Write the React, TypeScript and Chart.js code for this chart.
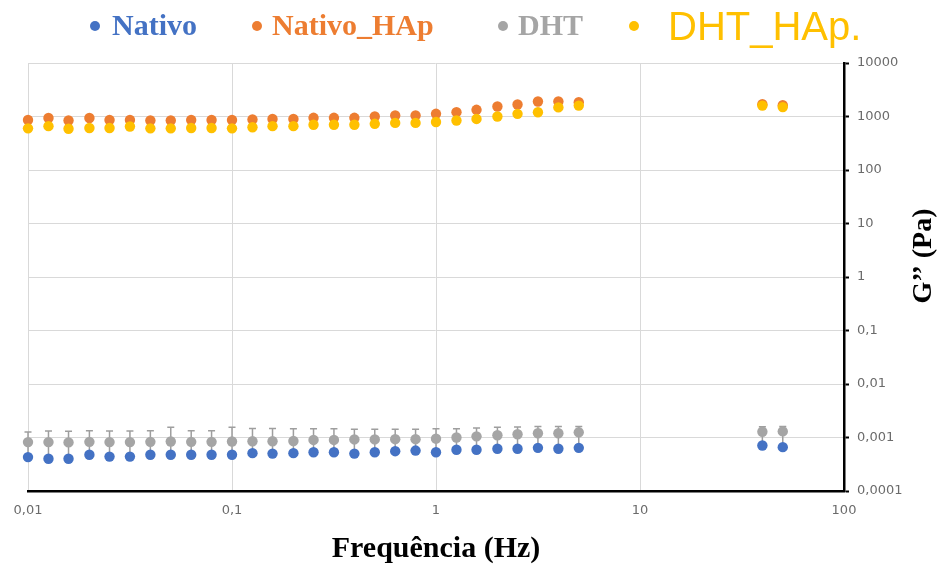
import { useEffect, useRef } from 'react';
import { Chart, registerables } from 'chart.js';

Chart.register(...registerables);

// Frequency sweep (Hz)
const frequencies = [
  0.01, 0.0126, 0.0158, 0.02, 0.0251, 0.0316, 0.0398, 0.0501, 0.0631, 0.0794,
  0.1, 0.126, 0.158, 0.2, 0.251, 0.316, 0.398, 0.501, 0.631, 0.794,
  1, 1.26, 1.58, 2, 2.51, 3.16, 3.98, 5.01, 39.8, 50.1,
];

// Loss modulus G'' (Pa) per sample
const nativo = [
  0.00043, 0.0004, 0.0004, 0.000475, 0.00044, 0.00044, 0.000475, 0.000475, 0.000475, 0.000475,
  0.000475, 0.00051, 0.0005, 0.00051, 0.00053, 0.00053, 0.0005, 0.00053, 0.000555, 0.00057,
  0.00053, 0.00059, 0.00059, 0.000615, 0.000615, 0.00064, 0.000615, 0.00064, 0.00071, 0.00066,
];
const nativoHAp = [
  860, 937, 842, 937, 860, 860, 842, 842, 860, 860,
  860, 879, 898, 898, 945, 945, 945, 1000, 1044, 1044,
  1123, 1204, 1334, 1538, 1677, 1908, 1908, 1850, 1700, 1620,
];
const dht = [
  0.00082, 0.00082, 0.00081, 0.00083, 0.00082, 0.00082, 0.00083, 0.00084, 0.00083, 0.00083,
  0.00084, 0.00085, 0.00085, 0.00086, 0.0009, 0.0009, 0.00092, 0.00092, 0.00093, 0.00093,
  0.00095, 0.001, 0.00105, 0.0011, 0.00115, 0.0012, 0.0012, 0.00125, 0.00128, 0.0013,
];
const dhtErrUp = [
  0.00045, 0.0005, 0.0005, 0.0005, 0.0005, 0.0005, 0.0005, 0.00072, 0.0005, 0.0005,
  0.00072, 0.00062, 0.00062, 0.0006, 0.00055, 0.00055, 0.0005, 0.0005, 0.0005, 0.0005,
  0.0005, 0.00045, 0.00045, 0.00045, 0.00042, 0.0004, 0.0004, 0.00035, 0.0003, 0.0003,
];
const dhtErrDown = [
  0.00036, 0.00038, 0.00038, 0.00033, 0.00035, 0.00035, 0.00033, 0.00034, 0.00033, 0.00033,
  0.00033, 0.00031, 0.00032, 0.00032, 0.00034, 0.00034, 0.00038, 0.00036, 0.00034, 0.00033,
  0.00038, 0.0004, 0.00044, 0.00047, 0.00052, 0.00055, 0.00057, 0.0006, 0.00055, 0.0006,
];
const dhtHAp = [
  600, 660, 590, 610, 610, 650, 600, 600, 610, 610,
  600, 630, 660, 660, 700, 700, 700, 730, 760, 760,
  790, 840, 900, 1000, 1120, 1200, 1480, 1600, 1600, 1500,
];

const xTickValues = [0.01, 0.1, 1, 10, 100];
const xTickLabels = ['0,01', '0,1', '1', '10', '100'];
const yTickValues = [0.0001, 0.001, 0.01, 0.1, 1, 10, 100, 1000, 10000];
const yTickLabels = ['0,0001', '0,001', '0,01', '0,1', '1', '10', '100', '1000', '10000'];

const seriesNames = ['Nativo', 'Nativo_HAp', 'DHT', 'DHT_HAp.'];
const seriesColors = ['#4472C4', '#ED7D31', '#A5A5A5', '#FFC000'];

const xTitle = 'Frequência (Hz)';
const yTitle = 'G’’ (Pa)';

const labelFor = (values: number[], labels: string[], v: number) => {
  const i = values.findIndex((t) => Math.abs(Math.log10(t) - Math.log10(v)) < 1e-6);
  return i >= 0 ? labels[i] : '';
};

const toPoints = (ys: number[]) => frequencies.map((f, i) => ({ x: f, y: ys[i] }));

// Vertical error bars for the DHT series
const errorBars = {
  id: 'errorBars',
  beforeDatasetsDraw(chart: any) {
    const { ctx, scales } = chart;
    const xs = scales.x;
    const ys = scales.y;
    ctx.save();
    ctx.strokeStyle = '#9E9E9E';
    ctx.lineWidth = 1.5;
    frequencies.forEach((f, i) => {
      const px = xs.getPixelForValue(f);
      const top = ys.getPixelForValue(dht[i] + dhtErrUp[i]);
      const bot = ys.getPixelForValue(dht[i] - dhtErrDown[i]);
      ctx.beginPath();
      ctx.moveTo(px, top);
      ctx.lineTo(px, bot);
      ctx.moveTo(px - 3.5, top);
      ctx.lineTo(px + 3.5, top);
      ctx.moveTo(px - 3.5, bot);
      ctx.lineTo(px + 3.5, bot);
      ctx.stroke();
    });
    ctx.restore();
  },
};

// Top legend and rotated right-hand axis title
const decorations = {
  id: 'decorations',
  afterDraw(chart: any) {
    const { ctx } = chart;
    ctx.save();
    const items = [
      { dot: 95, text: 112, font: 'bold 30px "Liberation Serif"', base: 35 },
      { dot: 257, text: 272, font: 'bold 30px "Liberation Serif"', base: 35 },
      { dot: 503, text: 518, font: 'bold 30px "Liberation Serif"', base: 35 },
      { dot: 634, text: 668, font: '40px "Liberation Sans"', base: 40 },
    ];
    items.forEach((it, i) => {
      ctx.fillStyle = seriesColors[i];
      ctx.beginPath();
      ctx.arc(it.dot, 26, 5, 0, Math.PI * 2);
      ctx.fill();
      ctx.font = it.font;
      ctx.textAlign = 'left';
      ctx.textBaseline = 'alphabetic';
      ctx.fillText(seriesNames[i], it.text, it.base);
    });

    ctx.translate(924, 256);
    ctx.rotate(-Math.PI / 2);
    ctx.font = 'bold 28px "Liberation Serif"';
    ctx.fillStyle = '#000';
    ctx.textAlign = 'center';
    ctx.textBaseline = 'middle';
    ctx.fillText(yTitle, 0, 0);
    ctx.restore();
  },
};

export default function App() {
  const canvasRef = useRef<HTMLCanvasElement | null>(null);

  useEffect(() => {
    const canvas = canvasRef.current;
    if (!canvas) return;
    const series = [nativo, nativoHAp, dht, dhtHAp];
    const drawOrder = [0, 2, 3, 1];
    const chart = new Chart(canvas, {
      type: 'scatter',
      data: {
        datasets: series.map((ys, i) => ({
          label: seriesNames[i],
          data: toPoints(ys),
          backgroundColor: seriesColors[i],
          borderColor: seriesColors[i],
          borderWidth: 0,
          pointRadius: 5.2,
          showLine: false,
          clip: false as any,
          order: drawOrder[i],
        })),
      },
      options: {
        responsive: false,
        maintainAspectRatio: false,
        animation: false,
        events: [],
        layout: { padding: { left: 28, top: 63, right: 0, bottom: 0 } },
        plugins: {
          legend: { display: false },
          tooltip: { enabled: false },
        },
        scales: {
          x: {
            type: 'logarithmic',
            position: 'bottom',
            min: 0.01,
            max: 100,
            afterBuildTicks: (s: any) => {
              s.ticks = xTickValues.map((v) => ({ value: v }));
            },
            afterFit: (s: any) => {
              s.height = 76;
            },
            ticks: {
              callback: (v: any) => labelFor(xTickValues, xTickLabels, Number(v)),
              font: { family: 'DejaVu Sans', size: 13 },
              color: '#6B6B6B',
              padding: 12,
              maxRotation: 0,
              autoSkip: false,
            },
            grid: { color: '#D9D9D9', lineWidth: 1, drawTicks: false },
            border: { color: '#000', width: 2.5 },
            title: {
              display: true,
              text: xTitle,
              font: { family: 'Liberation Serif', size: 30, weight: 'bold' },
              color: '#000',
              padding: 0,
            },
          },
          y: {
            type: 'logarithmic',
            position: 'right',
            min: 0.0001,
            max: 10000,
            afterBuildTicks: (s: any) => {
              s.ticks = yTickValues.map((v) => ({ value: v }));
            },
            afterFit: (s: any) => {
              s.width = 98;
            },
            ticks: {
              callback: (v: any) => labelFor(yTickValues, yTickLabels, Number(v)),
              font: { family: 'DejaVu Sans', size: 13 },
              color: '#6B6B6B',
              padding: 8,
              autoSkip: false,
            },
            grid: { color: '#D9D9D9', lineWidth: 1, tickColor: '#000', tickLength: 5, tickWidth: 2 },
            border: { color: '#000', width: 2.5 },
          },
        },
      },
      plugins: [errorBars, decorations],
    } as any);
    return () => chart.destroy();
  }, []);

  return (
    <div style={{ position: 'fixed', left: 0, top: 0, width: 942, height: 567, background: '#fff' }}>
      <canvas ref={canvasRef} width={942} height={567} style={{ width: 942, height: 567, display: 'block' }} />
    </div>
  );
}
